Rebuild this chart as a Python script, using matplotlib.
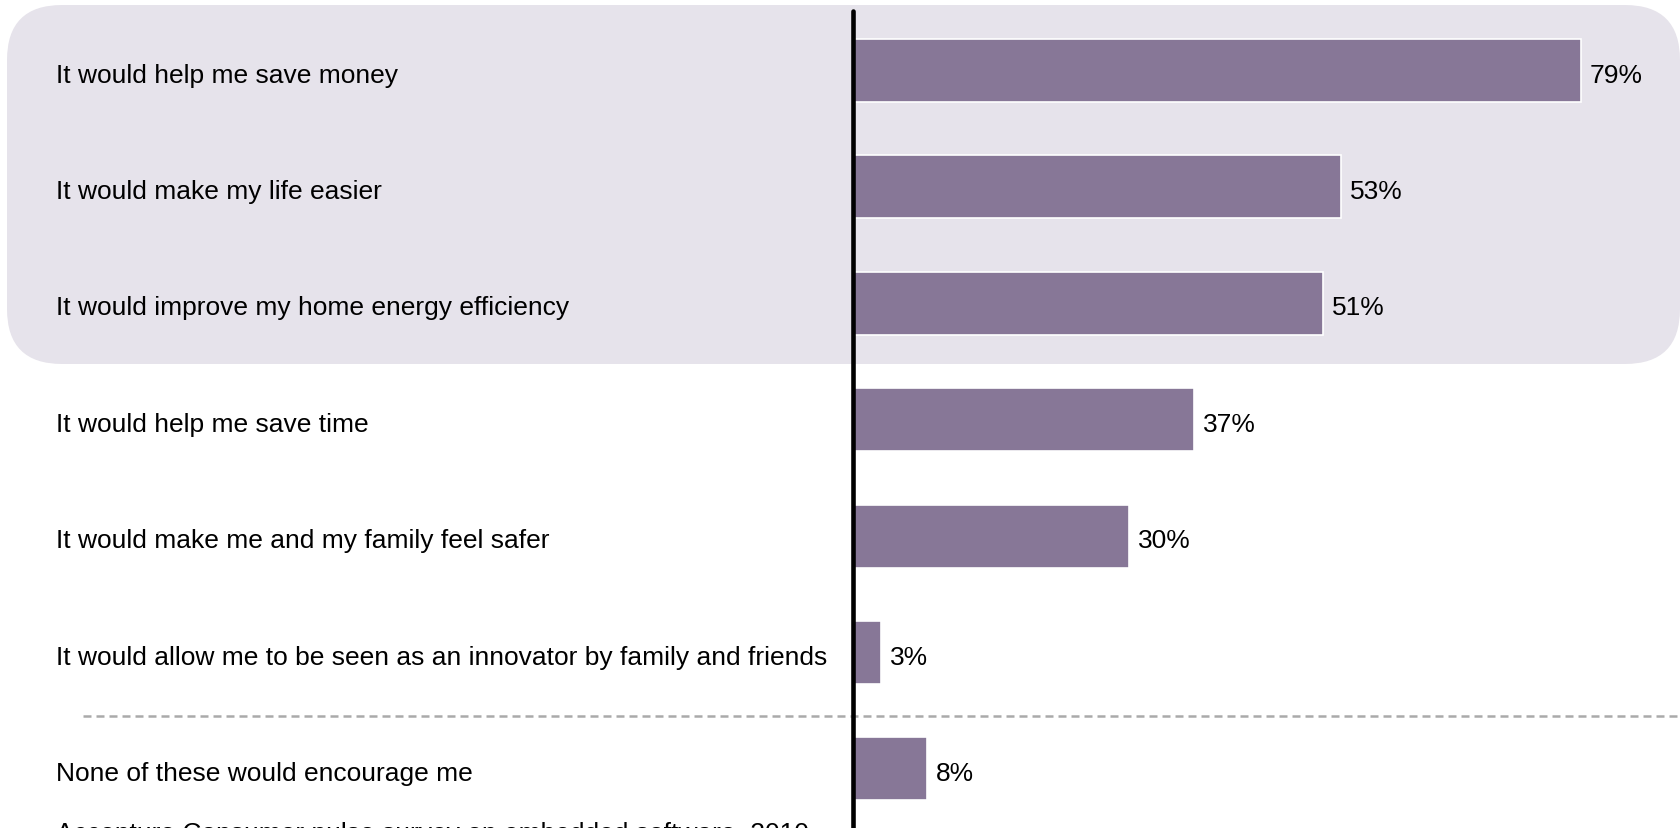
import matplotlib
matplotlib.use("Agg")
import matplotlib.pyplot as plt
from matplotlib.patches import FancyBboxPatch
from matplotlib.transforms import blended_transform_factory

plt.rcParams['font.family'] = ['Liberation Sans', 'DejaVu Sans']

reasons = [
    'It would help me save money',
    'It would make my life easier',
    'It would improve my home energy efficiency',
    'It would help me save time',
    'It would make me and my family feel safer',
    'It would allow me to be seen as an innovator by family and friends',
    'None of these would encourage me',
]
shares = [79, 53, 51, 37, 30, 3, 8]
source = 'Accenture Consumer pulse survey on embedded software, 2010'

W, H = 1681, 829
FS = 19
fig = plt.figure(figsize=(W / 100, H / 100), dpi=100)

# background layer in pixel units (y grows downwards)
bg = fig.add_axes([0, 0, 1, 1])
bg.set_xlim(0, W)
bg.set_ylim(H, 0)
bg.axis('off')
bg.add_patch(FancyBboxPatch((7, 6), 1673, 359,
                            boxstyle='round,pad=0,rounding_size=55',
                            fc='#e6e3eb', ec='none'))
bg.plot([83, W], [717, 717], color='#aaaaaa', lw=1.8,
        linestyle=(0, (3.2, 2)))
bg.text(56, 841, source, fontsize=FS, color='black', va='baseline',
        ha='left', clip_on=False)

# bar chart: zero at x=853 px, 9.215 px per percent
x0 = 853
scale = 9.215
ax = fig.add_axes([x0 / W, 0, (W - x0) / W, 1])
ax.patch.set_alpha(0)
ax.set_xlim(0, (W - x0) / scale)
row = 116.4
ax.set_ylim((H - 71.5) / row, -71.5 / row)
ax.axis('off')

pos = list(range(len(reasons)))
bars = ax.barh(pos, shares, height=0.54, color='#877797',
               edgecolor='white', linewidth=1.2, zorder=2)

# baseline sits ~11 px below the bar centre
for p, v in zip(pos, shares):
    ax.annotate(f'{v}%', xy=(v, p), xytext=(6.5, -8),
                textcoords='offset points', fontsize=FS,
                va='baseline', ha='left', color='black')

# thick vertical axis line
ax.plot([-0.02, -0.02], [-0.51, 7.5], color='black', lw=3.3,
        solid_capstyle='round', zorder=3, clip_on=False)

lab_tr = blended_transform_factory(fig.transFigure, ax.transData)
for p, name in zip(pos, reasons):
    ax.annotate(name, xy=(56 / W, p), xycoords=lab_tr, xytext=(0, -8),
                textcoords='offset points', fontsize=FS,
                va='baseline', ha='left', color='black')

fig.savefig('out.png', dpi=100)
